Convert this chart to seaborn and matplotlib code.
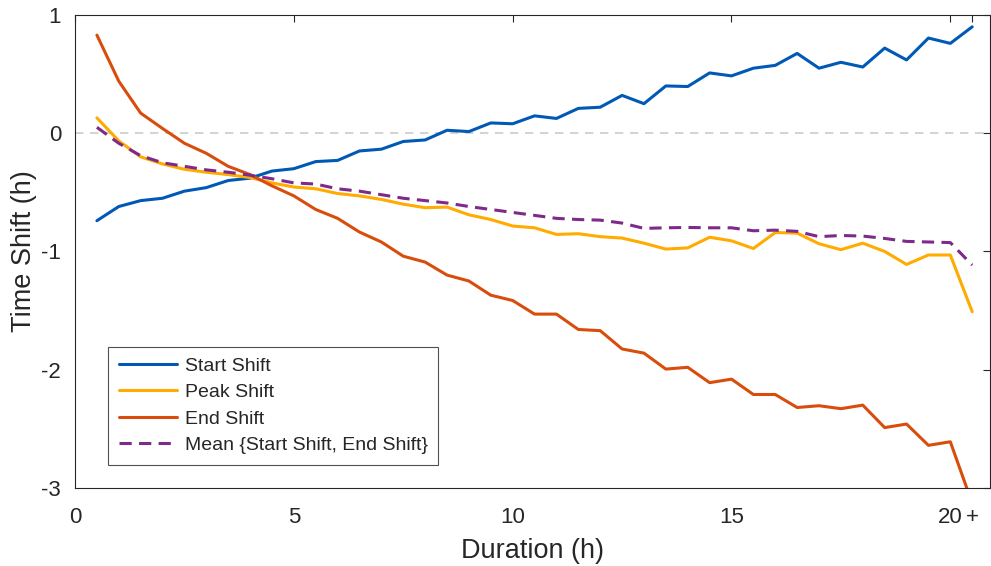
import numpy as np
import pandas as pd
import seaborn as sns
import matplotlib.pyplot as plt

# duration bins (h), last bin is "20 +"
duration = np.arange(0.5, 20.51, 0.5)

start_shift = [-0.74, -0.62, -0.57, -0.55, -0.49, -0.46, -0.40, -0.38, -0.32, -0.30,
               -0.24, -0.23, -0.15, -0.135, -0.07, -0.057, 0.025, 0.014, 0.087, 0.08,
               0.147, 0.125, 0.21, 0.22, 0.32, 0.25, 0.40, 0.395, 0.51, 0.485,
               0.55, 0.574, 0.675, 0.55, 0.60, 0.56, 0.72, 0.62, 0.805, 0.76, 0.90]
peak_shift = [0.13, -0.065, -0.20, -0.26, -0.305, -0.33, -0.35, -0.375, -0.42, -0.455,
              -0.47, -0.51, -0.53, -0.56, -0.60, -0.63, -0.625, -0.69, -0.73, -0.785,
              -0.80, -0.856, -0.85, -0.875, -0.887, -0.93, -0.98, -0.97, -0.88, -0.91,
              -0.975, -0.84, -0.845, -0.935, -0.985, -0.93, -1.0, -1.11, -1.03, -1.03, -1.51]
end_shift = [0.83, 0.44, 0.17, 0.04, -0.085, -0.17, -0.28, -0.35, -0.445, -0.53,
             -0.645, -0.72, -0.836, -0.92, -1.04, -1.09, -1.20, -1.25, -1.37, -1.415,
             -1.53, -1.53, -1.66, -1.67, -1.825, -1.86, -1.995, -1.98, -2.11, -2.08,
             -2.21, -2.21, -2.32, -2.305, -2.33, -2.30, -2.49, -2.46, -2.64, -2.61, -3.13]
mean_shift = [0.05, -0.085, -0.19, -0.25, -0.28, -0.31, -0.33, -0.355, -0.385, -0.42,
              -0.43, -0.47, -0.49, -0.52, -0.55, -0.57, -0.59, -0.62, -0.645, -0.67,
              -0.695, -0.72, -0.73, -0.735, -0.76, -0.805, -0.80, -0.797, -0.80, -0.80,
              -0.825, -0.82, -0.83, -0.875, -0.865, -0.87, -0.89, -0.915, -0.92, -0.925, -1.115]

xticks = [0, 5, 10, 15, 20, 20.5]
xtick_labels = ["0", "5", "10", "15", "20", "+"]
yticks = [-3, -2, -1, 0, 1]

sns.set_style("white")
plt.rcParams['font.family'] = ['Liberation Sans', 'DejaVu Sans']

fig = plt.figure(figsize=(9.91, 5.66), dpi=100)
ax = fig.add_axes([0.0757, 0.138, 0.923, 0.8355])

ax.axhline(0, color="#cccccc", ls=(0, (5, 4)), lw=1.2, zorder=1)

sns.lineplot(x=duration, y=start_shift, color="#0059b5", lw=2.2, label="Start Shift", ax=ax)
sns.lineplot(x=duration, y=peak_shift, color="#ffab00", lw=2.2, label="Peak Shift", ax=ax)
sns.lineplot(x=duration, y=end_shift, color="#d94d0c", lw=2.2, label="End Shift", ax=ax)
sns.lineplot(x=duration, y=mean_shift, color="#7e2a8a", lw=2.2, ls=(0, (4, 2.4)),
             label="Mean {Start Shift, End Shift}", ax=ax)

ax.set_xlim(0, 20.9)
ax.set_ylim(-3, 1)
ax.set_xticks(xticks)
ax.set_xticklabels(xtick_labels)
ax.set_yticks(yticks)
ax.set_yticklabels([str(v) for v in yticks])
ax.tick_params(direction="in", length=5, width=0.8, colors="#262626",
               labelsize=16, top=True, right=True, labelcolor="#262626")
ax.tick_params(axis="x", pad=14)
ax.tick_params(axis="y", pad=10)
for s in ax.spines.values():
    s.set_color("#262626")
    s.set_linewidth(0.8)

ax.set_xlabel("Duration (h)", fontsize=19.5, color="#262626", labelpad=7)
ax.set_ylabel("Time Shift (h)", fontsize=19.5, color="#262626", labelpad=3)

leg = ax.legend(loc="lower left", bbox_to_anchor=(0.036, 0.049), borderaxespad=0,
                fontsize=14, handlelength=3.0, handletextpad=0.4, labelspacing=0.45,
                fancybox=False, frameon=True, borderpad=0.55)
leg.get_frame().set_edgecolor("#262626")
leg.get_frame().set_linewidth(0.8)

plt.savefig("out.png", dpi=100)
